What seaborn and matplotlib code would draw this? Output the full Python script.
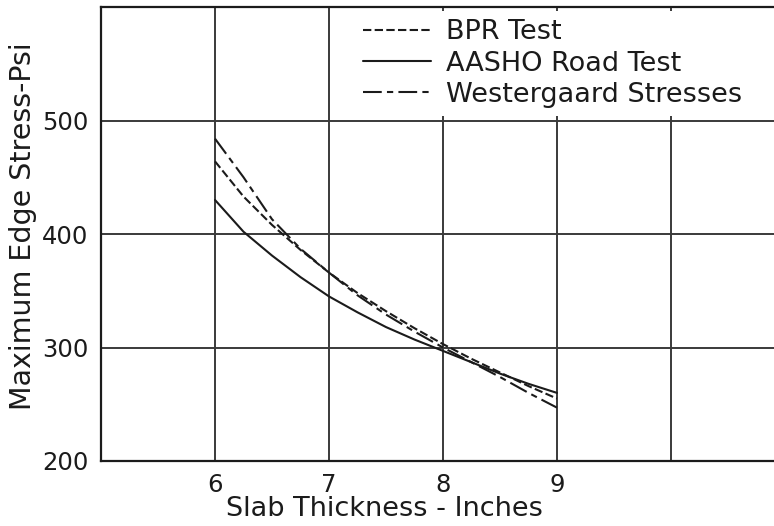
import matplotlib
matplotlib.use("Agg")
import matplotlib.pyplot as plt
import pandas as pd
import seaborn as sns

# Slab thickness (inches) at which the stress curves are read
thickness = [6.0, 6.25, 6.5, 6.75, 7.0, 7.25, 7.5, 7.75, 8.0, 8.25, 8.5, 8.75, 9.0]

# Maximum edge stress (psi) for each source
bpr_test = [464, 433, 408, 386, 366, 348, 332, 317, 303, 290, 278, 266, 255]
aasho_road_test = [430, 402, 381, 362, 345, 331, 318, 307, 297, 287, 277, 268, 260]
westergaard = [484, 450, 413, 387, 366, 346, 329, 314, 300, 287, 274, 260, 247]

series_names = ["BPR Test", "AASHO Road Test", "Westergaard Stresses"]
x_ticks = [6, 7, 8, 9, 10]
x_tick_labels = ["6", "7", "8", "9", ""]
y_ticks = [200, 300, 400, 500]
y_tick_labels = ["200", "300", "400", "500"]

df = pd.DataFrame({
    "thickness": thickness * 3,
    "stress": bpr_test + aasho_road_test + westergaard,
    "series": [n for n in series_names for _ in thickness],
})

sns.set_style("white")
plt.rcParams["font.family"] = ["DejaVu Sans"]

ink = "#1b1b1b"
grid_ink = "#3a3a3a"

W, H = 774, 526
fig = plt.figure(figsize=(W / 100, H / 100), dpi=100)
ax = fig.add_axes([101 / W, 65 / H, 673 / W, 454 / H])

sns.lineplot(
    data=df, x="thickness", y="stress", style="series", style_order=series_names,
    dashes={"BPR Test": (4, 1.6), "AASHO Road Test": "",
            "Westergaard Stresses": (9, 2.5, 3, 2.5)},
    color=ink, linewidth=1.5, ax=ax, legend=True, zorder=3,
)

ax.set_xlim(5, 5 + 673 / 114)
ax.set_ylim(200, 600)
ax.set_xticks(x_ticks)
ax.set_xticklabels(x_tick_labels)
ax.set_yticks(y_ticks + [600])
ax.set_yticklabels(y_tick_labels + [""])
ax.tick_params(length=0, pad=9, labelsize=17.5, colors=ink)
ax.grid(True, color=grid_ink, linewidth=1.4)
ax.set_axisbelow(True)

for side in ("left", "bottom", "top"):
    ax.spines[side].set_color(ink)
    ax.spines[side].set_linewidth(1.6)
ax.spines["right"].set_visible(False)

ax.set_xlabel("Slab Thickness - Inches", fontsize=19.5, color=ink)
ax.set_ylabel("Maximum Edge Stress-Psi", fontsize=20.5, color=ink)
ax.xaxis.set_label_coords((384 - 101) / 673, (461 - 496) / 454)
ax.yaxis.set_label_coords((37 - 101) / 673, (461 - 226) / 454)

handles, labels = ax.get_legend_handles_labels()
pairs = [(h, l) for h, l in zip(handles, labels) if l in series_names]
leg = ax.legend(
    [h for h, _ in pairs], [l for _, l in pairs],
    loc="upper left", bbox_to_anchor=(355 / W, 1 - 11 / H), bbox_transform=fig.transFigure,
    fontsize=19.5, handlelength=2.5, handletextpad=0.57, labelspacing=0.2,
    borderpad=0.3, borderaxespad=0, frameon=True, fancybox=False,
    facecolor="white", edgecolor="none", framealpha=1,
)
for t in leg.get_texts():
    t.set_color(ink)

fig.savefig("out.png", dpi=100, facecolor="white")
